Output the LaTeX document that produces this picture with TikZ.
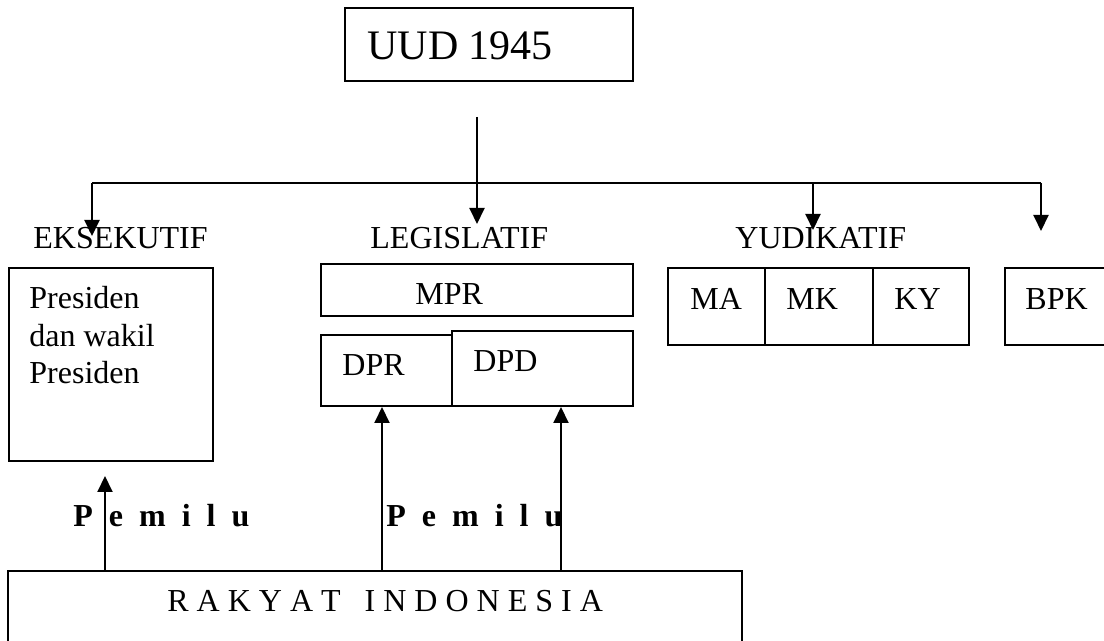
\documentclass[tikz,border=0pt]{standalone}
\usepackage{fontspec}
\setmainfont{Liberation Serif}
\usetikzlibrary{arrows.meta,fit,calc}

\tikzset{
  box/.style={draw, line width=1pt, inner sep=0pt},
  lbl/.style={anchor=base west, inner sep=0pt, font=\fontsize{16}{18.75}\selectfont},
  arr/.style={line width=1pt, -{Triangle[width=7.5pt,length=8pt]}},
}

\begin{document}
\begin{tikzpicture}[x=0.5pt, y=-0.5pt]
\useasboundingbox (0,0) rectangle (1104,641);

% constitution
\node[box, fit={(345,8) (633,81)}] (uud) {};
\node[lbl, font=\fontsize{21}{25}\selectfont] (uudtxt) at (367,60) {UUD 1945};

% branch labels
\node[lbl] (eks) at (33,249) {EKSEKUTIF};
\node[lbl] (leg) at (370,249) {LEGISLATIF};
\node[lbl] (yud) at (735,249) {YUDIKATIF};

% bus and arrows down
\coordinate (top) at (477,117);
\coordinate (busL) at (92,183);
\coordinate (busR) at (1041,183);
\draw[line width=1pt] (busL) -- (busR);
\draw[arr] (top) -- (477,224);
\draw[arr] (busL) -- (92,236);
\draw[arr] (813,183) -- (813,230);
\draw[arr] (busR) -- (1041,231);

% executive
\node[box, fit={(9,268) (213,461)}] (pres) {};
\node[lbl, anchor=north west, align=left] (prestxt) at (29,286) {Presiden\\dan wakil\\Presiden};

% legislative
\node[box, fit={(321,264) (633,316)}] (mpr) {};
\node[lbl] (mprtxt) at (415,305) {MPR};
\node[box, fit={(321,335) (452,406)}] (dpr) {};
\node[box, fit={(452,331) (633,406)}] (dpd) {};
\node[lbl] (dprtxt) at (342,376) {DPR};
\node[lbl] (dpdtxt) at (473,372) {DPD};

% judicative and BPK
\node[box, fit={(668,268) (765,345)}] (ma) {};
\node[box, fit={(765,268) (873,345)}] (mk) {};
\node[box, fit={(873,268) (969,345)}] (ky) {};
\node[box, fit={(1005,268) (1112,345)}] (bpk) {};
\node[lbl] (matxt) at (690,310) {MA};
\node[lbl] (mktxt) at (786,310) {MK};
\node[lbl] (kytxt) at (894,310) {KY};
\node[lbl] (bpktxt) at (1025,310) {BPK};

% people
\node[box, fit={(8,571) (742,660)}] (rakyat) {};
\node[lbl] (rakyattxt) at (167,612) {R A K Y A T\ \ \ I N D O N E S I A};

% elections
\coordinate (v1) at (105,0);
\coordinate (v2) at (382,0);
\coordinate (v3) at (561,0);
\draw[arr] (rakyat.north -| v1) -- ($(pres.south -| v1)+(0,14)$);
\draw[arr] (rakyat.north -| v2) -- (dpr.south -| v2);
\draw[arr] (rakyat.north -| v3) -- (dpd.south -| v3);
\node[lbl, font=\fontsize{16}{18.75}\selectfont\bfseries] (pem1) at (73,527) {P\ \ e\ \ m\ \ i\ \ l\ \ u};
\node[lbl, font=\fontsize{16}{18.75}\selectfont\bfseries] (pem2) at (386,527) {P\ \ e\ \ m\ \ i\ \ l\ \ u};
\end{tikzpicture}
\end{document}
